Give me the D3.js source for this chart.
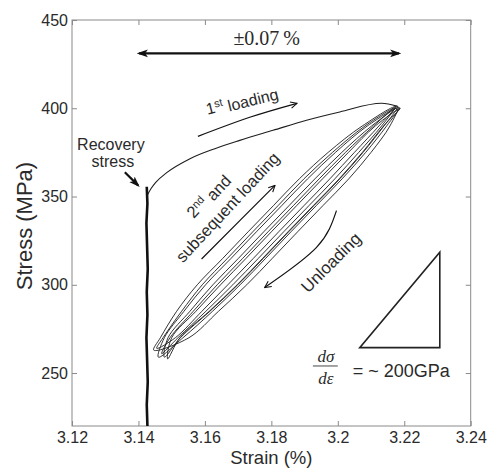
<!DOCTYPE html>
<html>
<head>
<script src="https://cdn.jsdelivr.net/npm/d3@7/dist/d3.min.js"></script>
<style>
body { margin: 0; background: #fff; }
text { font-family: "Liberation Sans", Arial, sans-serif; fill: #2a2a2a; }
.serif { font-family: "Liberation Serif", "Times New Roman", serif; }
</style>
</head>
<body>
<script>

// axis values
var xTicks = [3.12, 3.14, 3.16, 3.18, 3.2, 3.22, 3.24],
    yTicks = [250, 300, 350, 400, 450],
    xDomain = [3.12, 3.24],
    yDomain = [220, 450];

// recovery stress (vertical trace)
var recoveryStress = [220, 232, 245, 258, 270, 283, 296, 309, 322, 335, 346, 355.5],
    recoveryStrain = [3.1427, 3.1425, 3.1428, 3.1426, 3.1424, 3.1427, 3.1425, 3.1428, 3.1426, 3.1424, 3.1427, 3.1425];

// 1st loading [strain, stress]
var firstLoading = [[3.1426, 350.5], [3.1438, 354.5], [3.1452, 358], [3.1485, 363.5], [3.1555, 371.4],
                    [3.1630, 377.1], [3.1705, 381.8], [3.1805, 387.5], [3.1906, 393.2], [3.2006, 397.9],
                    [3.2132, 402.8], [3.2180, 401.1]];

// hysteresis loops (bottom tip, loading branch, top tip, unloading branch)
var loopA = [[3.1446,263],[3.1466,270],[3.1515,285],[3.1577,300],[3.1654,315],[3.1730,330],[3.1807,345],[3.1884,360],[3.1971,375],[3.2074,390],
             [3.2180,401],[3.2157,390],[3.2100,375],[3.2033,360],[3.1956,345],[3.1879,330],[3.1803,315],[3.1726,300],[3.1641,285],[3.1552,270]];
var loopB = [[3.1460,259],[3.1478,270],[3.1537,285],[3.1602,300],[3.1679,315],[3.1755,330],[3.1832,345],[3.1909,360],[3.1993,375],[3.2089,390],
             [3.2185,400.5],[3.2147,390],[3.2084,375],[3.2013,360],[3.1936,345],[3.1859,330],[3.1783,315],[3.1706,300],[3.1623,285],[3.1534,270]];
var loopC = [[3.1478,259],[3.1489,270],[3.1555,285],[3.1624,300],[3.1701,315],[3.1777,330],[3.1854,345],[3.1931,360],[3.2012,375],[3.2102,390],
             [3.2178,400],[3.2139,390],[3.2076,375],[3.2006,360],[3.1929,345],[3.1852,330],[3.1776,315],[3.1699,300],[3.1615,285],[3.1526,270]];
var loopD = [[3.1470,261],[3.1495,270],[3.1565,285],[3.1637,300],[3.1714,315],[3.1790,330],[3.1867,345],[3.1944,360],[3.2023,375],[3.2108,390],
             [3.2175,401],[3.2132,390],[3.2063,375],[3.1991,360],[3.1914,345],[3.1837,330],[3.1761,315],[3.1684,300],[3.1603,285],[3.1519,270]];
var loopE = [[3.1488,258],[3.1500,270],[3.1573,285],[3.1647,300],[3.1724,315],[3.1800,330],[3.1877,345],[3.1954,360],[3.2032,375],[3.2113,390],
             [3.2188,400],[3.2138,390],[3.2074,375],[3.2004,360],[3.1927,345],[3.1850,330],[3.1774,315],[3.1697,300],[3.1613,285],[3.1525,270]];
var loopF = [[3.1455,264],[3.1474,270],[3.1530,285],[3.1592,300],[3.1668,315],[3.1744,330],[3.1821,345],[3.1898,360],[3.1984,375],[3.2082,390],
             [3.2170,400],[3.2124,390],[3.2050,375],[3.1976,360],[3.1899,345],[3.1822,330],[3.1746,315],[3.1669,300],[3.1591,285],[3.1511,270]];
var loops = [loopA, loopB, loopC, loopD, loopE, loopF];

// annotation anchors (data units)
var rangeArrow = [[3.1402, 431.1], [3.2184, 431.1]],
    recoveryArrow = [[3.1359, 363.8], [3.1399, 356.3]],
    firstArrow = [[3.1579, 384.1], [3.1735, 394.9], [3.1877, 402.8]],
    subsequentArrow = [[3.1590, 314.6], [3.1708, 336.9], [3.1811, 356.3]],
    unloadingArrow = [[3.1996, 342.0], [3.1936, 321.2], [3.1780, 298.5]],
    slopeTriangle = [[3.2066, 264.4], [3.2307, 264.4], [3.2307, 318.4]];

var width = 489,
    height = 468,
    margin = {top: 20, right: 18.3, bottom: 42, left: 72},
    w = width - margin.left - margin.right,
    h = height - margin.top - margin.bottom;

var x = d3.scaleLinear().domain(xDomain).range([0, w]);
var y = d3.scaleLinear().domain(yDomain).range([h, 0]);

var svg = d3.select("body").append("svg")
            .attr("width", width)
            .attr("height", height);

var defs = svg.append("defs");
defs.append("marker").attr("id", "solid")
    .attr("viewBox", "0 0 10 10").attr("refX", 8).attr("refY", 5)
    .attr("markerWidth", 11).attr("markerHeight", 11)
    .attr("markerUnits", "userSpaceOnUse")
    .attr("orient", "auto-start-reverse")
  .append("path").attr("d", "M0,1.5 L10,5 L0,8.5 L2.5,5 Z").attr("fill", "#111");
defs.append("marker").attr("id", "open")
    .attr("viewBox", "0 0 10 10").attr("refX", 9).attr("refY", 5)
    .attr("markerWidth", 8).attr("markerHeight", 8)
    .attr("markerUnits", "userSpaceOnUse")
    .attr("orient", "auto")
  .append("path").attr("d", "M1,1 L9,5 L1,9").attr("fill", "none")
    .attr("stroke", "#111").attr("stroke-width", 1.4);

var g = svg.append("g").attr("transform", "translate(" + margin.left + "," + margin.top + ")");

// frame + axes, ticks pointing in
g.append("rect").attr("width", w).attr("height", h)
 .attr("fill", "none").attr("stroke", "#8a8a8a").attr("stroke-width", 1);

var fmtX = function(d) { return String(+d.toFixed(2)); };

var xAxis = g.append("g").attr("transform", "translate(0," + h + ")")
             .call(d3.axisBottom(x).tickValues(xTicks).tickSize(-5).tickPadding(6).tickFormat(fmtX));
var xTop = g.append("g")
             .call(d3.axisTop(x).tickValues(xTicks).tickSize(-5).tickFormat(""));
var yAxis = g.append("g")
             .call(d3.axisLeft(y).tickValues(yTicks).tickSize(-5).tickPadding(4));
var yRight = g.append("g").attr("transform", "translate(" + w + ",0)")
             .call(d3.axisRight(y).tickValues(yTicks).tickSize(-5).tickFormat(""));

[xAxis, xTop, yAxis, yRight].forEach(function(a) {
  a.select(".domain").remove();
  a.selectAll(".tick line").attr("stroke", "#8a8a8a");
  a.selectAll(".tick text").style("font-size", "16px").style("font-family", "'Liberation Sans', Arial, sans-serif").attr("fill", "#222");
});

svg.append("text").attr("x", margin.left + w / 2).attr("y", 464)
   .attr("text-anchor", "middle").style("font-size", "18.5px").text("Strain (%)");
svg.append("text").attr("transform", "translate(32,226) rotate(-90)")
   .attr("text-anchor", "middle").style("font-size", "22px").text("Stress (MPa)");

var line = d3.line().x(function(d) { return x(d[0]); }).y(function(d) { return y(d[1]); });

// loops
g.selectAll(".loop").data(loops).enter().append("path")
 .attr("class", "loop")
 .attr("d", line.curve(d3.curveCatmullRomClosed.alpha(0.5)))
 .attr("fill", "none").attr("stroke", "#1e1e1e").attr("stroke-width", 0.9);

// 1st loading
g.append("path").datum(firstLoading)
 .attr("d", d3.line().x(function(d) { return x(d[0]); }).y(function(d) { return y(d[1]); }).curve(d3.curveMonotoneX))
 .attr("fill", "none").attr("stroke", "#1e1e1e").attr("stroke-width", 1.1);

// recovery stress trace
g.append("path").datum(d3.zip(recoveryStrain, recoveryStress))
 .attr("d", d3.line().x(function(d) { return x(d[0]); }).y(function(d) { return y(d[1]); }))
 .attr("fill", "none").attr("stroke", "#111").attr("stroke-width", 2.6);

var straight = d3.line().x(function(d) { return x(d[0]); }).y(function(d) { return y(d[1]); });
var smooth = d3.line().x(function(d) { return x(d[0]); }).y(function(d) { return y(d[1]); }).curve(d3.curveNatural);

// range arrow
g.append("path").datum(rangeArrow).attr("d", straight)
 .attr("stroke", "#111").attr("stroke-width", 2.2).attr("fill", "none")
 .attr("marker-start", "url(#solid)").attr("marker-end", "url(#solid)");
g.append("text").attr("class", "serif").attr("x", x(3.1786)).attr("y", y(435.8))
 .attr("text-anchor", "middle").style("font-size", "20px").text("\u00b10.07\u2009%");

// recovery stress
g.append("text").attr("x", x(3.1317)).attr("y", y(376.1)).attr("text-anchor", "middle")
 .style("font-size", "16px").text("Recovery");
g.append("text").attr("x", x(3.1323)).attr("y", y(366.5)).attr("text-anchor", "middle")
 .style("font-size", "16px").text("stress");
g.append("path").datum(recoveryArrow).attr("d", straight)
 .attr("stroke", "#111").attr("stroke-width", 2.2).attr("fill", "none")
 .attr("marker-end", "url(#solid)");

// curved arrows
[firstArrow, subsequentArrow, unloadingArrow].forEach(function(a) {
  g.append("path").datum(a).attr("d", smooth)
   .attr("stroke", "#111").attr("stroke-width", 1.2).attr("fill", "none")
   .attr("marker-end", "url(#open)");
});

var rotText = function(v, s, angle, size) {
  return g.append("text")
          .attr("transform", "translate(" + x(v) + "," + y(s) + ") rotate(" + angle + ")")
          .attr("text-anchor", "middle").attr("dy", "0.35em")
          .style("font-size", size + "px");
};

var t1 = rotText(3.1711, 404.5, -14, 16);
t1.append("tspan").text("1");
t1.append("tspan").attr("dy", "-0.45em").style("font-size", "11px").text("st");
t1.append("tspan").attr("dy", "0.45em").text(" loading");

var t2 = rotText(3.1609, 350.6, -47, 16.5);
t2.append("tspan").text("2");
t2.append("tspan").attr("dy", "-0.45em").style("font-size", "11px").text("nd");
t2.append("tspan").attr("dy", "0.45em").text(" and");
rotText(3.1668, 343.9, -47, 16.5).text("subsequent loading");

rotText(3.1979, 312.7, -45, 17).text("Unloading");

// slope triangle
g.append("path")
 .attr("d", straight(slopeTriangle) + "Z")
 .attr("fill", "none").attr("stroke", "#222").attr("stroke-width", 1.6);

g.append("text").attr("class", "serif").attr("x", x(3.1964)).attr("y", y(256.3))
 .attr("text-anchor", "middle").style("font-size", "17px").style("font-style", "italic").text("d\u03c3");
g.append("line").attr("x1", x(3.1925)).attr("x2", x(3.2000)).attr("y1", y(254)).attr("y2", y(254))
 .attr("stroke", "#333").attr("stroke-width", 0.9);
g.append("text").attr("class", "serif").attr("x", x(3.1964)).attr("y", y(243.8))
 .attr("text-anchor", "middle").style("font-size", "17px").style("font-style", "italic").text("d\u03b5");
g.append("text").attr("x", x(3.2045)).attr("y", y(247.7))
 .style("font-size", "18px").text("= ~ 200GPa");

</script>
</body>
</html>
